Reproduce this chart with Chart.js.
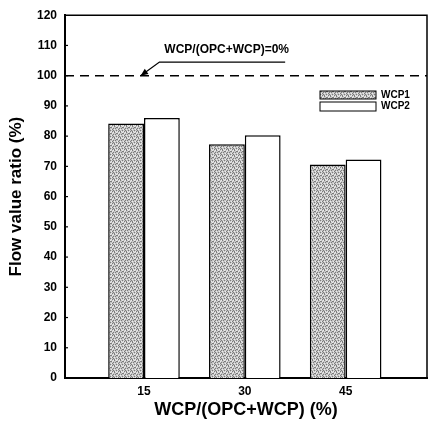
<!DOCTYPE html>
<html>
<head>
<meta charset="utf-8">
<script src="https://cdn.jsdelivr.net/npm/chart.js@4.4.1/dist/chart.umd.min.js"></script>
<style>
  body { margin: 0; background: #fff; }
  canvas { display: block; }
</style>
</head>
<body>
<canvas id="flowChart" width="433" height="421"></canvas>
<script>
// data
const categories = [15, 30, 45];
const wcp1 = [84.2, 77.3, 70.6];
const wcp2 = [86.0, 80.3, 72.3];
const seriesNames = ['WCP1', 'WCP2'];
const refValue = 100;
const refLabel = 'WCP/(OPC+WCP)=0%';

const FONT = "'Liberation Sans', Arial, sans-serif";

// grey stipple fill like the scanned figure
function stipple() {
  const c = document.createElement('canvas');
  c.width = 6; c.height = 6;
  const g = c.getContext('2d');
  g.fillStyle = '#c6c6c6';
  g.fillRect(0, 0, 6, 6);
  g.fillStyle = '#7c7c7c';
  [[0,0],[3,1],[1,2],[5,2],[2,4],[4,3],[0,5],[4,5],[2,1],[5,4]].forEach(p => g.fillRect(p[0], p[1], 1, 1));
  g.fillStyle = '#ececec';
  [[2,0],[5,0],[4,1],[0,3],[3,3],[1,5],[3,5]].forEach(p => g.fillRect(p[0], p[1], 1, 1));
  return g.createPattern(c, 'repeat');
}

const ctx = document.getElementById('flowChart').getContext('2d');
const hatch = stipple();

const extras = {
  id: 'extras',
  afterDatasetsDraw(chart) {
    const { ctx, chartArea: a, scales: { x, y } } = chart;
    ctx.save();

    // frame top/right
    ctx.strokeStyle = '#000';
    ctx.lineWidth = 1.5;
    ctx.beginPath();
    ctx.moveTo(a.left, a.top);
    ctx.lineTo(a.right, a.top);
    ctx.lineTo(a.right, a.bottom);
    ctx.stroke();

    // inward y ticks
    ctx.lineWidth = 1.2;
    for (let v = 10; v < 120; v += 10) {
      const py = y.getPixelForValue(v);
      ctx.beginPath();
      ctx.moveTo(a.left, py);
      ctx.lineTo(a.left + 3, py);
      ctx.stroke();
    }

    // reference line
    const ry = y.getPixelForValue(refValue);
    ctx.setLineDash([9, 6]);
    ctx.lineWidth = 1.5;
    ctx.beginPath();
    ctx.moveTo(a.left, ry);
    ctx.lineTo(a.right, ry);
    ctx.stroke();
    ctx.setLineDash([]);

    // annotation text + leader arrow
    const tx = x.getPixelForValue(27.3);
    ctx.font = 'bold 12px ' + FONT;
    ctx.fillStyle = '#000';
    ctx.textAlign = 'center';
    ctx.textBaseline = 'middle';
    ctx.fillText(refLabel, tx, y.getPixelForValue(108.6));
    const uy = y.getPixelForValue(104.5);
    const ux0 = x.getPixelForValue(17.3);
    const ux1 = x.getPixelForValue(36.0);
    ctx.lineWidth = 1.3;
    ctx.beginPath();
    ctx.moveTo(ux1, uy);
    ctx.lineTo(ux0, uy);
    const hx = x.getPixelForValue(14.5), hy = ry;
    ctx.lineTo(hx, hy);
    ctx.stroke();
    const ang = Math.atan2(hy - uy, hx - ux0);
    ctx.beginPath();
    ctx.moveTo(hx, hy);
    ctx.lineTo(hx - 8 * Math.cos(ang - 0.4), hy - 8 * Math.sin(ang - 0.4));
    ctx.lineTo(hx - 8 * Math.cos(ang + 0.4), hy - 8 * Math.sin(ang + 0.4));
    ctx.closePath();
    ctx.fill();

    // legend
    const lx = 320, lw = 56;
    const rows = [{ top: 91, h: 8 }, { top: 102, h: 9 }];
    ctx.font = 'bold 10px ' + FONT;
    ctx.textAlign = 'left';
    chart.data.datasets.forEach((ds, i) => {
      const r = rows[i];
      ctx.fillStyle = ds.backgroundColor;
      ctx.fillRect(lx, r.top, lw, r.h);
      ctx.lineWidth = 1;
      ctx.strokeStyle = '#000';
      ctx.strokeRect(lx, r.top, lw, r.h);
      ctx.fillStyle = '#000';
      ctx.fillText(ds.label, lx + lw + 5, r.top + r.h / 2);
    });

    ctx.restore();
  }
};

new Chart(ctx, {
  type: 'bar',
  data: {
    datasets: [
      {
        label: seriesNames[0],
        data: categories.map((c, i) => ({ x: c, y: wcp1[i] })),
        backgroundColor: hatch,
        borderColor: '#000',
        borderWidth: 1.5,
        borderSkipped: 'start'
      },
      {
        label: seriesNames[1],
        data: categories.map((c, i) => ({ x: c, y: wcp2[i] })),
        backgroundColor: '#fff',
        borderColor: '#000',
        borderWidth: 1.5,
        borderSkipped: 'start'
      }
    ]
  },
  options: {
    responsive: false,
    animation: false,
    categoryPercentage: 0.71,
    barPercentage: 1,
    layout: { padding: { top: 14, right: 6, left: 0, bottom: 0 } },
    plugins: {
      legend: { display: false },
      tooltip: { enabled: false }
    },
    scales: {
      x: {
        type: 'linear',
        offset: false,
        min: 3.25,
        max: 57.1,
        afterBuildTicks(scale) {
          scale.ticks = categories.map(v => ({ value: v }));
        },
        afterFit(scale) { scale.height = 43; },
        grid: { display: false, drawTicks: false, offset: false },
        border: { display: true, color: '#000', width: 2 },
        ticks: {
          padding: 6,
          color: '#000',
          font: { family: FONT, size: 12, weight: 'bold' }
        },
        title: {
          display: true,
          text: 'WCP/(OPC+WCP) (%)',
          color: '#000',
          padding: { top: 0, bottom: 0 },
          font: { family: FONT, size: 18, weight: 'bold' }
        }
      },
      y: {
        min: 0,
        max: 120,
        ticks: {
          stepSize: 10,
          padding: 8,
          color: '#000',
          font: { family: FONT, size: 12, weight: 'bold' }
        },
        afterFit(scale) { scale.width = 65; },
        grid: { display: false, drawTicks: false },
        border: { display: true, color: '#000', width: 2 },
        title: {
          display: true,
          text: 'Flow value ratio (%)',
          color: '#000',
          padding: { top: 6, bottom: 0 },
          font: { family: FONT, size: 17, weight: 'bold' }
        }
      }
    }
  },
  plugins: [extras]
});
</script>
</body>
</html>
